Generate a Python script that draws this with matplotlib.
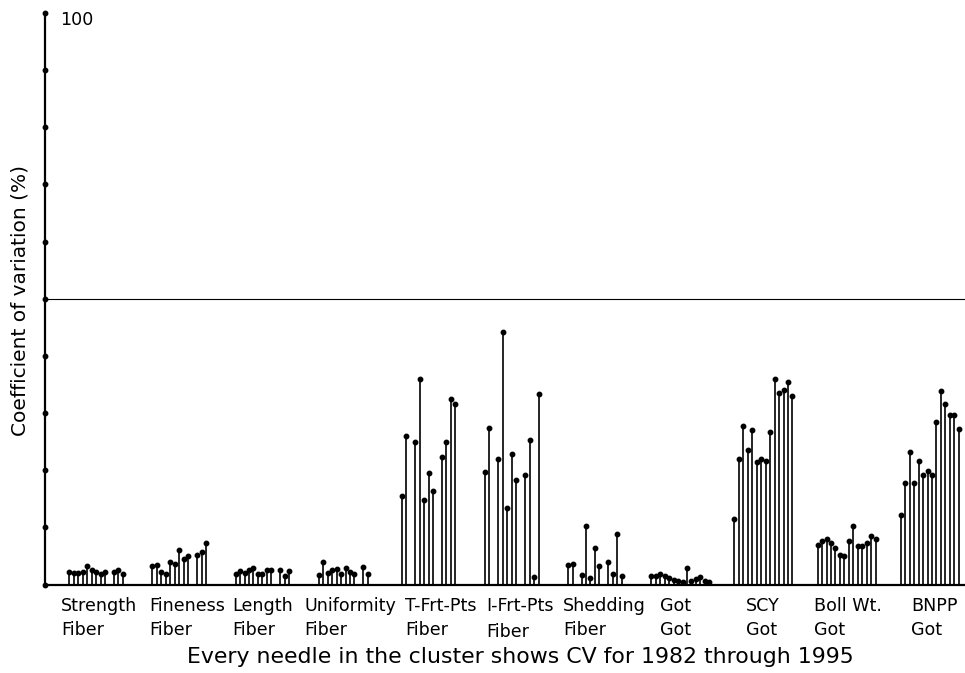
import numpy as np
import matplotlib
matplotlib.use("Agg")
import matplotlib.pyplot as plt
from matplotlib.transforms import blended_transform_factory

nan = np.nan

# 1982 .. 1995, one needle per year (fiber data has no 1995 value)
years = list(range(1982, 1996))

names = ["Strength", "Fineness", "Length", "Uniformity", "T-Frt-Pts", "I-Frt-Pts",
         "Shedding", "Got", "SCY", "Boll Wt.", "BNPP"]
groups = ["Fiber", "Fiber", "Fiber", "Fiber", "Fiber", "Fiber",
          "Fiber", "Got", "Got", "Got", "Got"]

strength   = [2.1, 2.0, 2.0, 2.1, 3.15, 2.6, 2.15, 1.75, 2.2, nan, 2.2, 2.45, 1.8, nan]
fineness   = [3.3, 3.4, 2.1, 1.85, 4.0, 3.55, 6.1, 4.5, 4.95, nan, 5.1, 5.6, 7.2, nan]
length     = [1.75, 2.4, 2.05, 2.5, 2.8, 1.9, 1.9, 2.5, 2.45, nan, 2.45, 1.5, 2.4, nan]
uniformity = [1.6, 3.85, 2.05, 2.5, 2.75, 1.85, 2.8, 2.15, 1.75, nan, 3.0, 1.8, nan, nan]
t_frt_pts  = [15.5, 25.9, nan, 24.9, 36.0, 14.7, 19.5, 16.3, nan, 22.3, 24.85, 32.5, 31.6, nan]
i_frt_pts  = [19.7, 27.4, nan, 22.0, 44.1, 13.4, 22.75, 18.3, nan, 19.1, 25.3, 1.35, 33.3, nan]
shedding   = [3.4, 3.6, nan, 1.6, 10.3, 1.2, 6.3, 3.3, nan, 4.0, 1.75, 8.75, 1.5, nan]
got        = [1.5, 1.5, 1.85, 1.4, 1.15, 0.75, 0.65, 0.5, 2.8, 0.6, 0.9, 1.3, 0.6, 0.4]
scy        = [11.4, 21.9, 27.7, 23.6, 27.0, 21.5, 22.0, 21.6, 26.6, 36.0, 33.5, 34.1, 35.5, 33.0]
boll_wt    = [6.9, 7.6, 7.9, 7.2, 6.4, 5.2, 5.0, 7.6, 10.2, 6.8, 6.8, 7.3, 8.4, 7.9]
bnpp       = [12.1, 17.7, 23.2, 17.7, 21.6, 19.2, 19.8, 19.1, 28.5, 33.9, 31.6, 29.7, 29.7, 27.2]

series = [strength, fineness, length, uniformity, t_frt_pts, i_frt_pts,
          shedding, got, scy, boll_wt, bnpp]

STEP = 18.64                     # cluster spacing in needle slots
label_shift = [-1.9, -0.8, -0.8, -3.3, 0.7, 0.2, -1.1, 2.0, 2.6, -0.8, 2.3]

fig = plt.figure(figsize=(9.65, 6.73), dpi=100)
ax = fig.add_axes([45 / 965, 1 - 584.5 / 673, 920 / 965, (584.5 - 13) / 673])

for i, vals in enumerate(series):
    v = np.array(vals, dtype=float)
    x = i * STEP + np.arange(len(years))
    ok = ~np.isnan(v)
    ax.vlines(x[ok], 0, v[ok], color="black", lw=1.2)
    ax.plot(x[ok], v[ok], "o", color="black", ms=3.2)

ax.axhline(50, color="black", lw=0.8)

ax.set_xlim(-5.45, 10 * STEP + 13 + 1.4)
ax.set_ylim(0, 100)
ax.spines["top"].set_visible(False)
ax.spines["right"].set_visible(False)
ax.spines["left"].set_linewidth(1.6)
ax.spines["bottom"].set_linewidth(1.6)
ax.set_xticks([])
ax.set_yticks([])

# tick dots along the y axis
yt = np.arange(0, 101, 10)
trans = blended_transform_factory(ax.transAxes, ax.transData)
ax.plot(np.zeros(len(yt)), yt, "o", color="black", ms=3.2, transform=trans, clip_on=False)
ax.text(0.0165, 98.8, "100", transform=trans, ha="left", va="center", fontsize=12.6)

# category labels under each cluster
lab_trans = blended_transform_factory(ax.transData, fig.transFigure)
for i, (n, g) in enumerate(zip(names, groups)):
    xl = i * STEP + label_shift[i]
    dy = 0.003 if n == "I-Frt-Pts" else 0.0
    ax.text(xl, 1 - 606 / 673, n, transform=lab_trans, ha="left", va="center", fontsize=12.6)
    ax.text(xl, 1 - 630 / 673 - dy, g, transform=lab_trans, ha="left", va="center", fontsize=12.6)

fig.text(520 / 965, 1 - 657 / 673, "Every needle in the cluster shows CV for 1982 through 1995",
         ha="center", va="center", fontsize=15.8)
fig.text(20 / 965, 1 - 300 / 673, "Coefficient of variation (%)", rotation=90,
         ha="center", va="center", fontsize=14.5)

fig.savefig("out.png", dpi=100, facecolor="white")
